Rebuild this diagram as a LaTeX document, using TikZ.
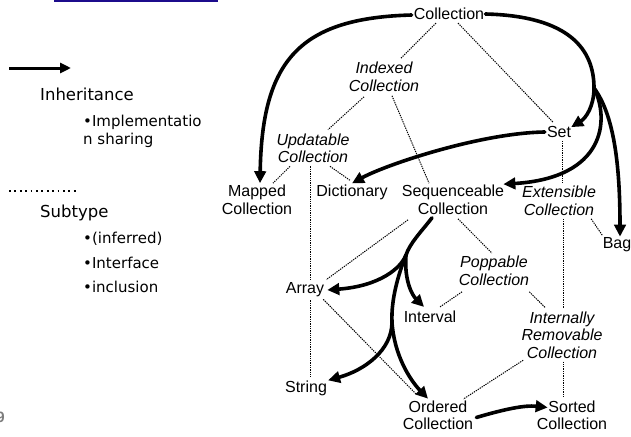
\documentclass[tikz,border=0pt]{standalone}
\usepackage{fontspec}
\setmainfont{Liberation Sans}
\newfontfamily\legfont{DejaVu Sans}
\usetikzlibrary{arrows.meta,calc}
\definecolor{barblue}{RGB}{28,12,140}
\definecolor{pggrey}{RGB}{125,125,125}
\begin{document}
\begin{tikzpicture}[x=1pt,y=-1pt,
  lbl/.style={inner sep=0pt, align=center, font=\fontsize{16}{17.5}\selectfont},
  ilbl/.style={inner sep=0pt, align=center, font=\fontsize{16}{17.5}\selectfont\itshape},
  subline/.style={line width=1pt, dash pattern=on 1.3pt off 1pt},
  inhline/.style={line width=3.6pt, line cap=round, -{Triangle[length=12pt,width=11.5pt]}},
  legtext/.style={inner sep=0pt, anchor=west, font=\legfont\fontsize{15}{18}\selectfont},
  leghead/.style={inner sep=0pt, anchor=west, font=\legfont\fontsize{16.5}{20}\selectfont}]
\useasboundingbox (0,0) rectangle (631,436);

% top bar and page number
\fill[barblue] (54,0) rectangle (218,2);
\node[anchor=east, inner sep=0pt, text=pggrey, font=\fontsize{15}{15}\selectfont\bfseries] (pg) at (5,417) {9};

% legend
\coordinate (la) at (9,68);
\coordinate (lb) at (71,68);
\draw[line width=3pt, -{Triangle[length=11pt,width=10pt]}] (la) -- (lb);
\node[leghead] (linh) at (40,94) {Inheritance};
\node[legtext] (limp) at (83,122) {•Implementatio};
\node[legtext] (lsha) at (83,140) {n sharing};
\coordinate (da) at (9,191);
\coordinate (db) at (79,191);
\draw[line width=1.8pt, dash pattern=on 1.8pt off 3.6pt] (da) -- (db);
\node[leghead] (lsub) at (40,213) {Subtype};
\node[legtext] (linf) at (83,239) {•(inferred)};
\node[legtext] (lint) at (83,263) {•Interface};
\node[legtext] (linc) at (83,287) {•inclusion};

% diagram nodes
\node[lbl] (coll) at (449,14) {Collection};
\node[ilbl] (idx) at (384,77) {Indexed\\Collection};
\node[lbl] (set) at (559,132) {Set};
\node[ilbl] (upd) at (313,148.5) {Updatable\\Collection};
\node[lbl] (map) at (257,200) {Mapped\\Collection};
\node[lbl] (dict) at (352,192) {Dictionary};
\node[lbl] (seq) at (453,200) {Sequenceable\\Collection};
\node[ilbl] (ext) at (559,201) {Extensible\\Collection};
\node[lbl] (bag) at (617,245) {Bag};
\node[lbl] (arr) at (305,290) {Array};
\node[lbl] (intv) at (430,317) {Interval};
\node[ilbl] (pop) at (494,271) {Poppable\\Collection};
\node[ilbl] (irm) at (562,335) {Internally\\Removable\\Collection};
\node[lbl] (str) at (306,388) {String};
\node[lbl] (ord) at (438,415.5) {Ordered\\Collection};
\node[lbl] (sort) at (572,415.5) {Sorted\\Collection};

% subtype (dotted) connectors
\draw[subline] ($(coll.south)+(-13,3)$) -- ($(idx.north)+(17,-4)$);
\draw[subline] ($(coll.south)+(9,3)$) -- ($(set.north)+(-6,-4)$);
\draw[subline] ($(idx.south)+(-20,5)$) -- ($(upd.north)+(15,-4)$);
\draw[subline] ($(idx.south)+(8,4)$) -- ($(seq.north)+(-24,-2)$);
\draw[subline] ($(upd.south)+(-23,3)$) -- ($(map.north)+(16,-2)$);
\draw[subline] ($(upd.south)+(17,3)$) -- ($(dict.north)+(-2,-4)$);
\coordinate (va) at ($(arr.north)+(5,0)$);
\coordinate (vb) at ($(arr.south)+(5,0)$);
\draw[subline, shorten <=3pt, shorten >=3pt] (va |- upd.south) -- (va);
\draw[subline, shorten <=3pt, shorten >=3pt] (vb) -- (vb |- str.north);
\coordinate (vs) at ($(set.south)+(3,0)$);
\draw[subline, shorten <=3pt, shorten >=3pt] (vs) -- (vs |- ext.north);
\draw[subline] ($(ext.south east)+(-5,3)$) -- ($(bag.north west)+(0,-2)$);
\coordinate (ve) at ($(irm.north)+(1,0)$);
\draw[subline, shorten <=3pt, shorten >=3pt] (ve |- ext.south) -- (ve);
\coordinate (vi) at ($(irm.south)+(1,0)$);
\draw[subline, shorten <=3pt, shorten >=3pt] (vi) -- (vi |- sort.north);
\draw[subline] ($(seq.south)+(-45,5)$) -- ($(arr.north east)+(2,-3)$);
\draw[subline] ($(seq.south)+(5,4)$) -- ($(pop.north)+(-2,-3)$);
\draw[subline] ($(pop.south)+(-32,6)$) -- ($(intv.north)+(10,-4)$);
\draw[subline] ($(pop.south east)+(0,6)$) -- ($(irm.north)+(-17,-4)$);
\draw[subline, shorten <=3pt, shorten >=3pt] (irm) -- (ord);
\draw[subline] ($(arr.south east)+(-1,2)$) -- ($(ord.north west)+(14,-6)$);

% inheritance (thick) arrows
\draw[inhline] ($(coll.west)+(-2,1)$) .. controls (300,18) and (262,60) .. ($(map.north)+(3,-2)$);
\coordinate (J) at (594,88);
\draw[inhline,-] ($(coll.east)+(1,0)$) .. controls (570,16) and (594,50) .. (J);
\draw[inhline] (J) .. controls (594,106) and (586,118) .. ($(set.north east)+(0,1)$);
\draw[inhline] (J) .. controls (610,120) and (605,178) .. ($(seq.north east)+(-1,-1)$);
\draw[inhline] (J) .. controls (614,115) and (620,165) .. ($(bag.north)+(3,-1)$);
\draw[inhline] ($(set.west)+(-2,0)$) .. controls (480,133) and (385,165) .. ($(dict.north)+(0,-1)$);
\coordinate (K1) at (406,255);
\coordinate (K2) at (392,322);
\draw[inhline,-] ($(seq.south)+(-21,3)$) .. controls (421,232) and (410,243) .. (K1);
\draw[inhline] (K1) .. controls (401,268) and (380,286) .. ($(arr.east)+(3,0)$);
\draw[inhline] (K1) .. controls (404,280) and (412,295) .. ($(intv.north)+(-6,-4)$);
\draw[inhline,-] (K1) .. controls (398,275) and (391,300) .. (K2);
\draw[inhline] (K2) .. controls (392,350) and (365,370) .. ($(str.north east)+(1,0)$);
\draw[inhline] (K2) .. controls (394,355) and (410,380) .. ($(ord.north)+(-10,-2)$);
\draw[inhline] ($(ord.east)+(3,2)$) .. controls (505,409) and (525,405) .. ($(sort.west)+(11,-8)$);
\end{tikzpicture}
\end{document}
